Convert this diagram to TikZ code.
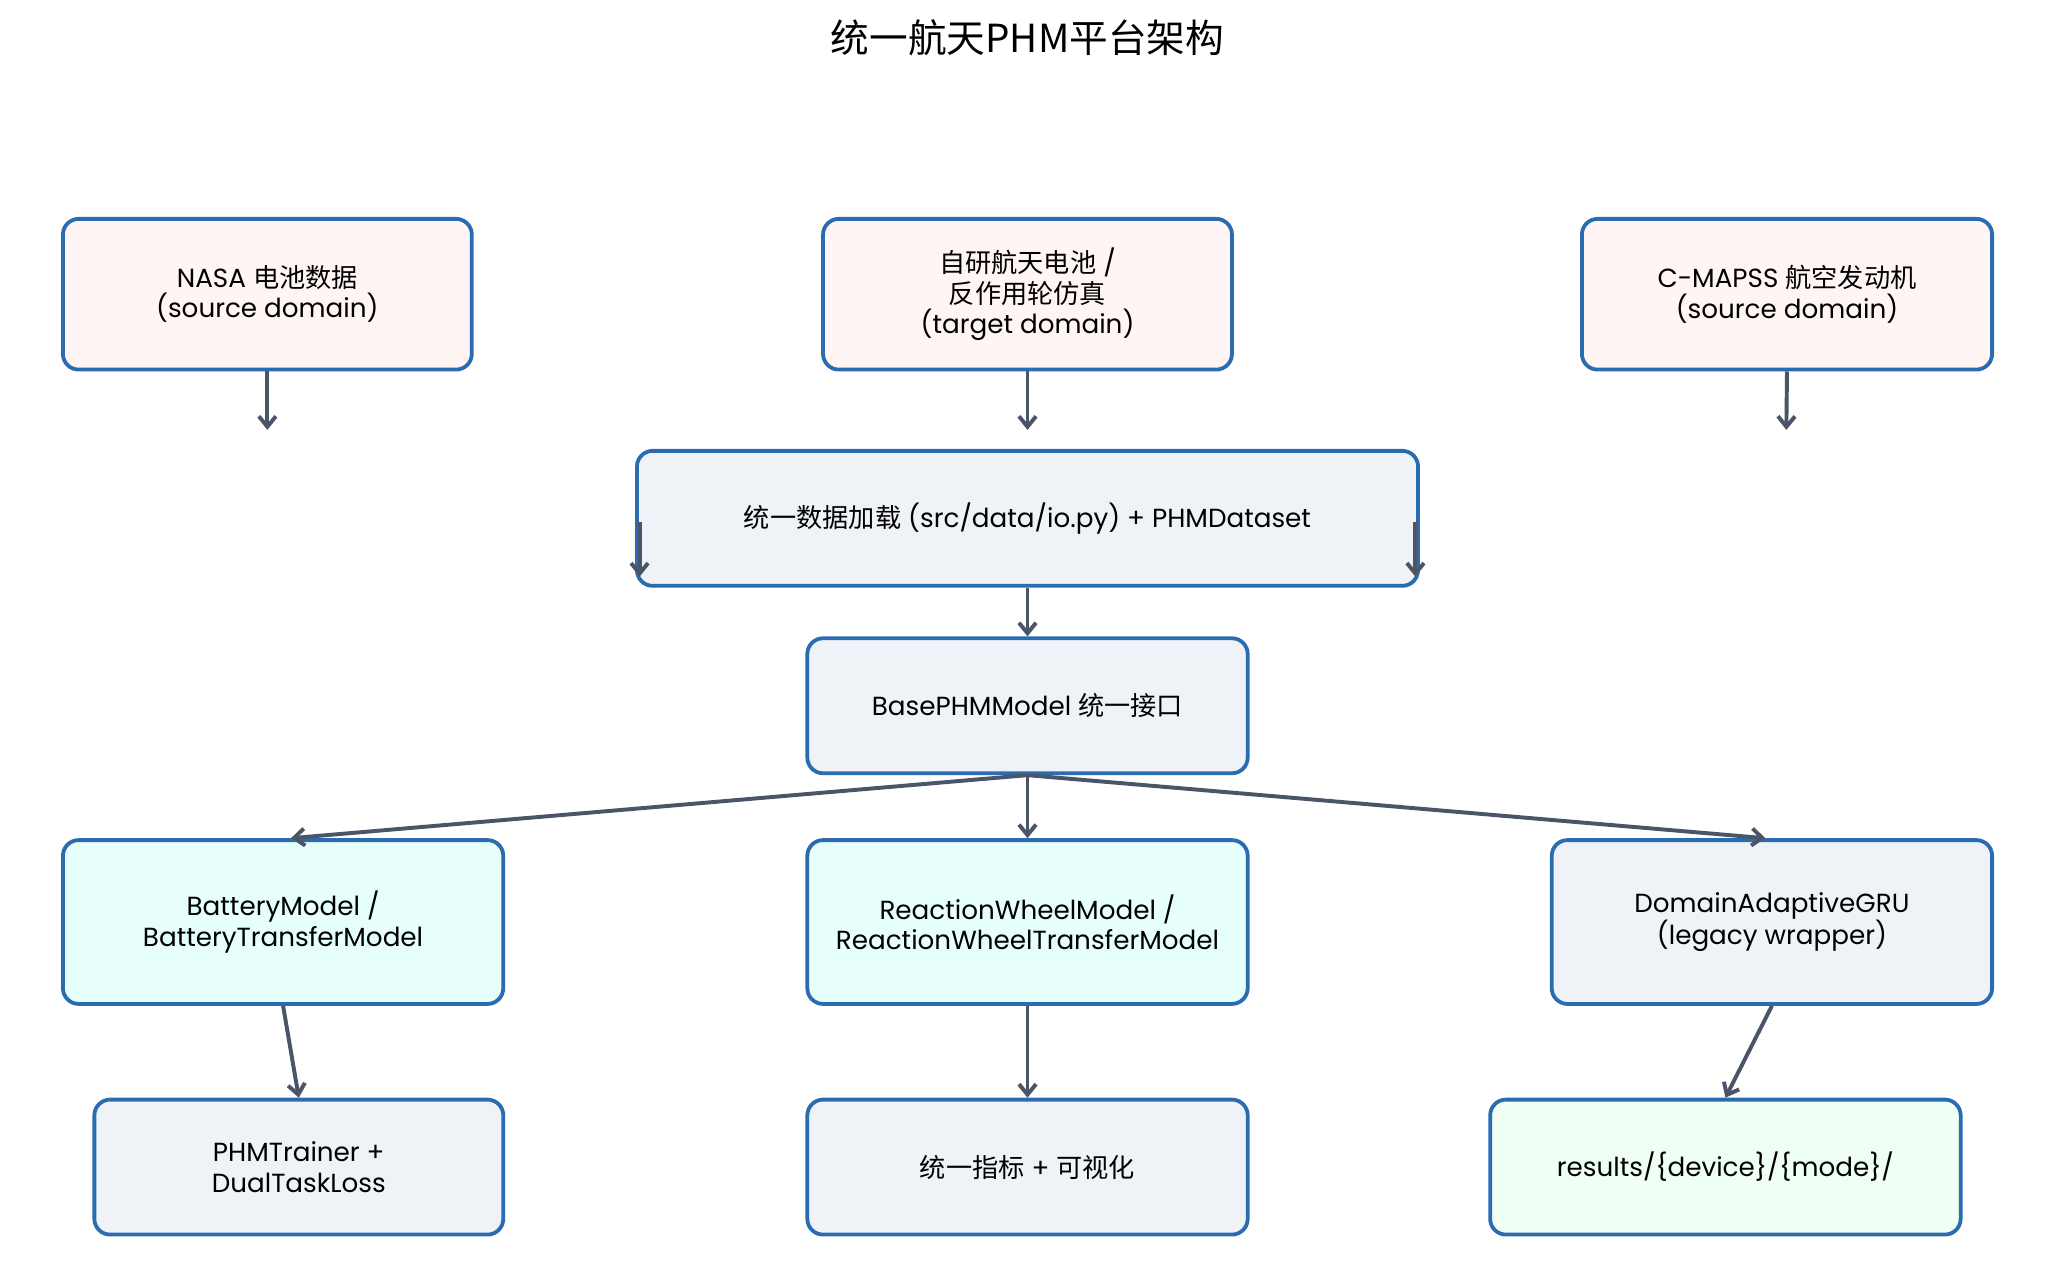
\documentclass[tikz,border=0pt]{standalone}
\usepackage{fontspec}
\setmainfont{Poppins}
\newfontfamily\cjk{Noto Sans CJK SC}
\usetikzlibrary{arrows.meta}
\definecolor{bordc}{HTML}{2B6CB0}
\definecolor{arrc}{HTML}{4A5568}
\definecolor{srcfill}{HTML}{FFF5F5}
\definecolor{grayfill}{HTML}{EFF3F8}
\definecolor{tealfill}{HTML}{E6FFFA}
\definecolor{greenfill}{HTML}{F0FFF4}
\newcommand{\zh}[1]{{\cjk #1}}
\tikzset{
  box/.style={draw=bordc, line width=2.9pt, rounded corners=12pt, align=center,
    font=\fontsize{20}{23}\selectfont, inner sep=0pt},
  arr/.style={draw=arrc, line width=3pt, -{Straight Barb[length=8pt,width=13pt,line width=3pt]}},
}
\begin{document}
\begin{tikzpicture}[x=1pt,y=-1pt]
\useasboundingbox (0,0) rectangle (1568,978);
\node[font=\cjk\fontsize{29.5}{31}\selectfont] (title) at (784,29) {统一航天PHM平台架构};

\node[box, fill=srcfill, minimum width=312pt, minimum height=115pt] (nasa) at (204,224.5)
  {NASA \zh{电池数据}\\(source domain)};
\node[box, fill=srcfill, minimum width=312pt, minimum height=115pt] (own) at (784,224.5)
  {\zh{自研航天电池} /\\\zh{反作用轮仿真}\\(target domain)};
\node[box, fill=srcfill, minimum width=313pt, minimum height=115pt] (cmapss) at (1363.5,224.5)
  {C-MAPSS \zh{航空发动机}\\(source domain)};

\node[box, fill=grayfill, minimum width=596pt, minimum height=103pt] (data) at (784,395.5)
  {\zh{统一数据加载} (src/data/io.py) + PHMDataset};
\node[box, fill=grayfill, minimum width=336pt, minimum height=103pt] (base) at (784,538.5)
  {BasePHMModel \zh{统一接口}};

\node[box, fill=tealfill, minimum width=336pt, minimum height=125pt] (bat) at (216,703.5)
  {BatteryModel /\\BatteryTransferModel};
\node[box, fill=tealfill, minimum width=336pt, minimum height=125pt] (rw) at (784,703.5)
  {ReactionWheelModel /\\ReactionWheelTransferModel};
\node[box, fill=grayfill, minimum width=336pt, minimum height=125pt] (gru) at (1352,703.5)
  {DomainAdaptiveGRU\\(legacy wrapper)};

\node[box, fill=grayfill, minimum width=312pt, minimum height=103pt] (trainer) at (228,890.5)
  {PHMTrainer +\\DualTaskLoss};
\node[box, fill=grayfill, minimum width=336pt, minimum height=103pt] (metric) at (784,890.5)
  {\zh{统一指标} + \zh{可视化}};
\node[box, fill=greenfill, minimum width=359pt, minimum height=103pt] (res) at (1316.5,890.5)
  {results/\{device\}/\{mode\}/};

\coordinate (nasaEnd) at (204,328);
\coordinate (ownEnd) at (784,328);
\coordinate (cmEnd) at (1363,328);
\coordinate (lA) at (488,398);
\coordinate (lB) at (488,440);
\coordinate (rA) at (1080,398);
\coordinate (rB) at (1080,440);

\draw[arr] (nasa.south) -- (nasaEnd);
\draw[arr] (own.south) -- (ownEnd);
\draw[arr] (cmapss.south) -- (cmEnd);
\draw[arr] (lA) -- (lB);
\draw[arr] (rA) -- (rB);
\draw[arr] (data.south) -- (base.north);
\draw[arr] (base.south) -- ([xshift=6pt]bat.north);
\draw[arr] (base.south) -- (rw.north);
\draw[arr] (base.south) -- ([xshift=-5pt]gru.north);
\draw[arr] (bat.south) -- (trainer.north);
\draw[arr] (rw.south) -- (metric.north);
\draw[arr] (gru.south) -- (res.north);
\end{tikzpicture}
\end{document}
